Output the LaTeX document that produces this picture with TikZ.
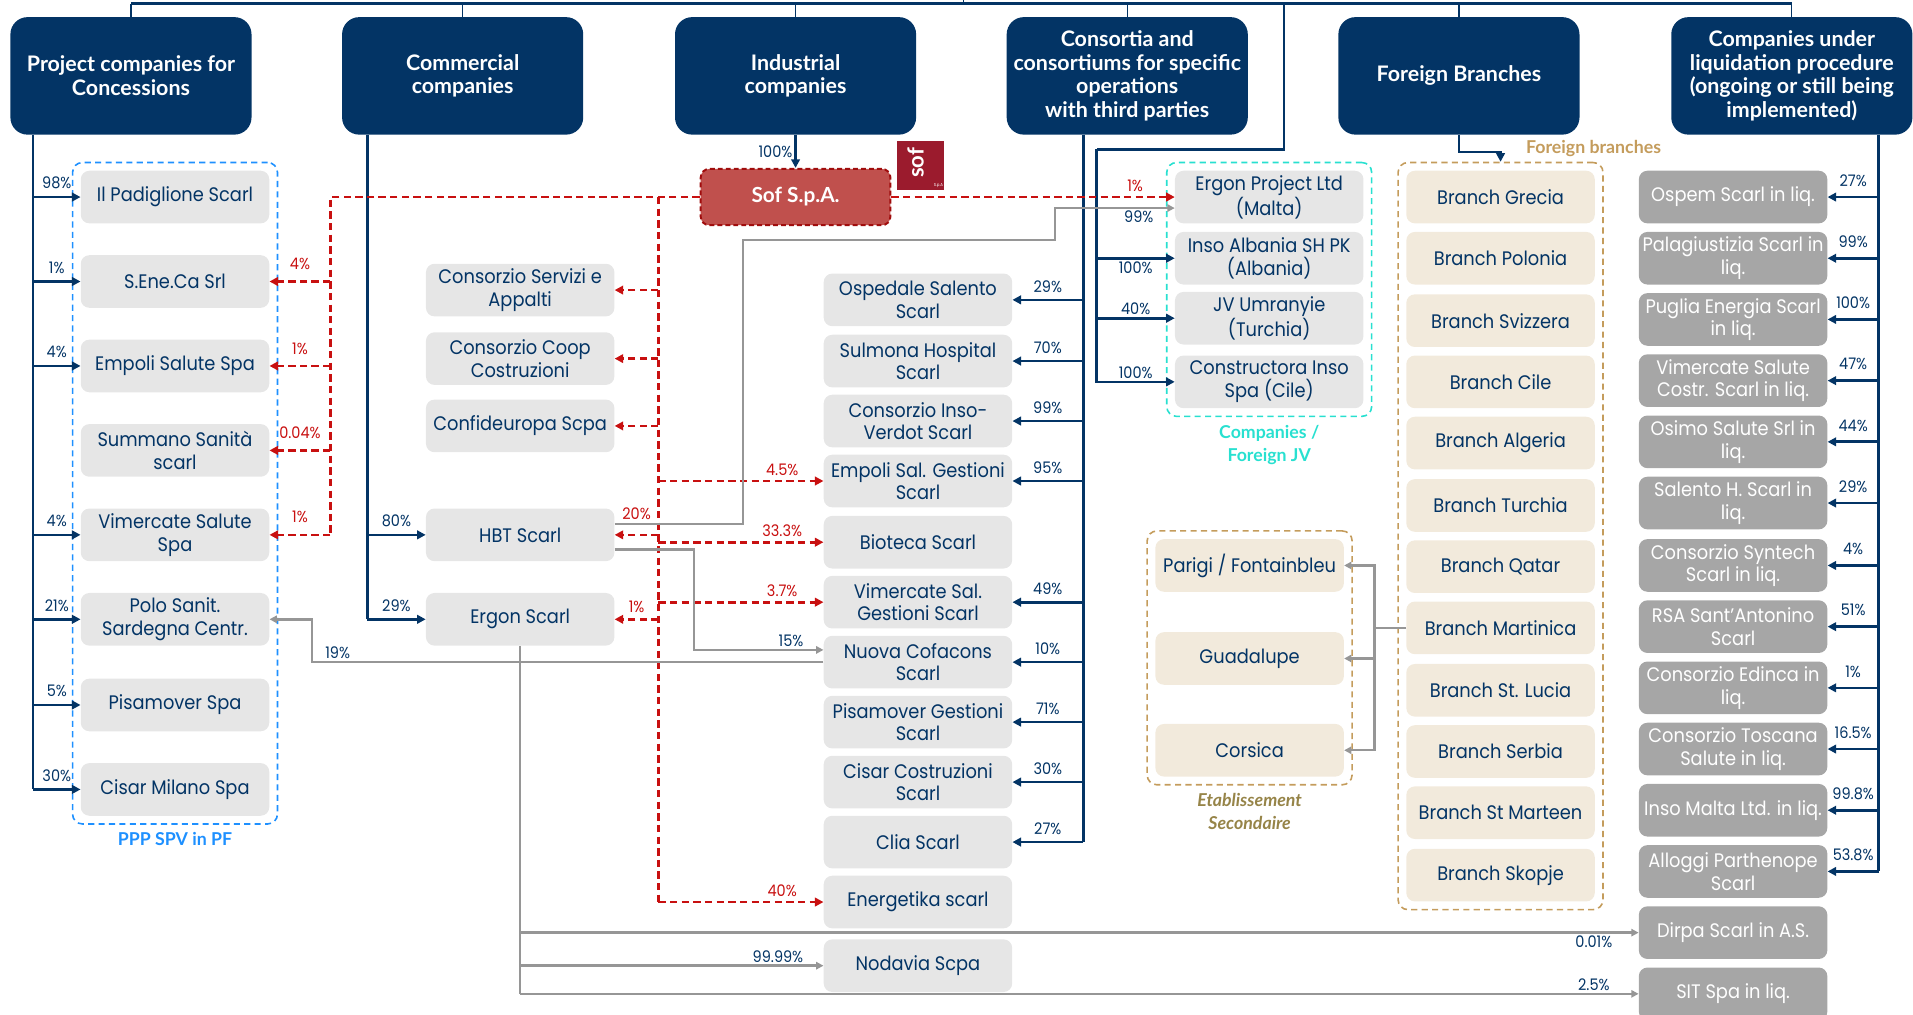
\documentclass[tikz,border=0pt]{standalone}
\usepackage{fontspec}
\setmainfont{Poppins}[FakeStretch=0.91]
\newfontfamily\headfont{Lato}
\usepackage{xcolor}
\usepackage{tikz}
\usetikzlibrary{arrows.meta,positioning,fit}

\definecolor{navy}{RGB}{3,52,101}
\definecolor{boxgrey}{RGB}{230,230,230}
\definecolor{liqgrey}{RGB}{166,166,166}
\definecolor{redline}{RGB}{200,16,16}
\definecolor{sofred}{RGB}{192,80,77}
\definecolor{logored}{RGB}{155,27,45}
\definecolor{beige}{RGB}{242,234,220}
\definecolor{tan}{RGB}{196,156,92}
\definecolor{olive}{RGB}{150,132,72}
\definecolor{cyanjv}{RGB}{40,224,208}
\definecolor{pppblue}{RGB}{30,144,255}
\definecolor{lineg}{RGB}{150,150,150}

\begin{document}
\begin{tikzpicture}[x=1pt, y=-1pt, >={Triangle[length=7pt,width=7pt]},
    head/.style={rounded corners=14pt, fill=navy, text=white, minimum width=197pt,
        minimum height=96pt, align=center, inner sep=2pt,
        font=\headfont\bfseries\fontsize{17.5}{19.5}\selectfont},
    comp/.style={rounded corners=7pt, fill=boxgrey, text=navy, minimum width=154pt,
        minimum height=43pt, align=center, inner sep=1pt,
        font=\fontsize{16}{18.5}\selectfont},
    liq/.style={comp, fill=liqgrey, text=white},
    branch/.style={comp, fill=beige},
    grp/.style={draw=#1, line width=1.3pt, dash pattern=on 5pt off 3.5pt,
        rounded corners=8pt, inner sep=6.5pt},
    pct/.style={font=\fontsize{13}{13}\selectfont, text=navy, inner sep=1.5pt},
    rpct/.style={pct, text=redline},
    own/.style={draw=navy, line width=2.2pt},
    sofline/.style={draw=redline, line width=2.2pt, dash pattern=on 6pt off 3.5pt},
    grline/.style={draw=lineg, line width=2pt, >={Triangle[length=6pt,width=6pt]}}]

    \useasboundingbox (0,0) rectangle (1563,829);

    % group headers
    \node[head] (h1) at (107,62) {Project companies for\\Concessions};
    \node[head] (h2) at (378,62) {Commercial\\companies};
    \node[head] (h3) at (650,62) {Industrial\\companies};
    \node[head] (h4) at (921,62) {Consortia and\\consortiums for specific\\operations\\with third parties};
    \node[head] (h5) at (1192,62) {Foreign Branches};
    \node[head] (h6) at (1464,62) {Companies under\\liquidation procedure\\(ongoing or still being\\implemented)};

    \coordinate (top) at (787,3);
    \coordinate (jvtop) at (1049,3);
    \draw[navy, line width=2pt] (h1.north |- top) -- (h6.north |- top);
    \draw[navy, line width=1.2pt] (top) -- (787,0);
    \draw[navy, line width=1pt] (h1.north) -- (h1.north |- top);
    \draw[navy, line width=1pt] (h2.north) -- (h2.north |- top);
    \draw[navy, line width=1pt] (h3.north) -- (h3.north |- top);
    \draw[navy, line width=1pt] (h4.north) -- (h4.north |- top);
    \draw[navy, line width=1pt] (h5.north) -- (h5.north |- top);
    \draw[navy, line width=1pt] (h6.north) -- (h6.north |- top);

    % concessions
    \node[comp] (pad) at (143,161) {Il Padiglione Scarl};
    \node[comp] (sen) at (143,230) {S.Ene.Ca Srl};
    \node[comp] (emp) at (143,299) {Empoli Salute Spa};
    \node[comp] (sum) at (143,368) {Summano Sanità\\scarl};
    \node[comp] (vim) at (143,437) {Vimercate Salute\\Spa};
    \node[comp] (polo) at (143,506) {Polo Sanit.\\Sardegna Centr.};
    \node[comp] (pis) at (143,576) {Pisamover Spa};
    \node[comp] (cmil) at (143,645) {Cisar Milano Spa};
    \node[grp=pppblue, fit=(pad)(cmil)] (ppp) {};
    \node[below=3pt of ppp, text=pppblue, font=\headfont\bfseries\fontsize{14.5}{16}\selectfont] (ppplabel) {PPP SPV in PF};

    % commercial
    \node[comp] (csa) at (425,237) {Consorzio Servizi e\\Appalti};
    \node[comp] (ccc) at (425,293) {Consorzio Coop\\Costruzioni};
    \node[comp] (cfe) at (425,348) {Confideuropa Scpa};
    \node[comp] (hbt) at (425,437) {HBT Scarl};
    \node[comp] (erg) at (425,506) {Ergon Scarl};

    % industrial
    \node[rounded corners=7pt, fill=sofred, draw=redline!80!black, line width=1.6pt,
        dash pattern=on 4pt off 2.5pt, text=white, minimum width=155pt, minimum height=46pt,
        font=\headfont\bfseries\fontsize{17}{18}\selectfont] (sof) at (650,161) {Sof S.p.A.};
    \node[fill=logored, minimum width=39pt, minimum height=40pt, inner sep=0pt] (logo) at (752,135) {};
    \node[rotate=90, text=white, inner sep=0pt, font=\headfont\bfseries\fontsize{18}{18}\selectfont] (logotxt) at ([xshift=-4pt,yshift=2pt]logo.center) {sof};
    \node[text=white, font=\fontsize{3.5}{4}\selectfont, inner sep=0pt, anchor=south east] (logospa) at ([xshift=-1pt,yshift=1.5pt]logo.south east) {S.p.A};

    % consortia
    \node[comp] (osp) at (750,245) {Ospedale Salento\\Scarl};
    \node[comp] (sul) at (750,295) {Sulmona Hospital\\Scarl};
    \node[comp] (cin) at (750,344) {Consorzio Inso-\\Verdot Scarl};
    \node[comp] (eps) at (750,393) {Empoli Sal. Gestioni\\Scarl};
    \node[comp] (bio) at (750,443) {Bioteca Scarl};
    \node[comp] (vsg) at (750,492) {Vimercate Sal.\\Gestioni Scarl};
    \node[comp] (nuo) at (750,541) {Nuova Cofacons\\Scarl};
    \node[comp] (psg) at (750,590) {Pisamover Gestioni\\Scarl};
    \node[comp] (cco) at (750,639) {Cisar Costruzioni\\Scarl};
    \node[comp] (cli) at (750,688) {Clia Scarl};
    \node[comp] (ene) at (750,737) {Energetika scarl};
    \node[comp] (nod) at (750,789) {Nodavia Scpa};

    % foreign jv
    \node[comp] (epl) at (1037,161) {Ergon Project Ltd\\(Malta)};
    \node[comp] (alb) at (1037,211) {Inso Albania SH PK\\(Albania)};
    \node[comp] (jvu) at (1037,260) {JV Umranyie\\(Turchia)};
    \node[comp] (cil) at (1037,312) {Constructora Inso\\Spa (Cile)};
    \node[grp=cyanjv, fit=(epl)(cil)] (jv) {};
    \node[below=3pt of jv, align=center, text=cyanjv, font=\headfont\bfseries\fontsize{14.5}{18.5}\selectfont] (jvlabel) {Companies /\\Foreign JV};

    % foreign branches
    \node[branch] (bgre) at (1226,161) {Branch Grecia};
    \node[branch] (bpol) at (1226,211) {Branch Polonia};
    \node[branch] (bsvi) at (1226,262) {Branch Svizzera};
    \node[branch] (bcil) at (1226,312) {Branch Cile};
    \node[branch] (balg) at (1226,362) {Branch Algeria};
    \node[branch] (btur) at (1226,413) {Branch Turchia};
    \node[branch] (bqat) at (1226,463) {Branch Qatar};
    \node[branch] (bmar) at (1226,513) {Branch Martinica};
    \node[branch] (bstl) at (1226,564) {Branch St. Lucia};
    \node[branch] (bser) at (1226,614) {Branch Serbia};
    \node[branch] (bstm) at (1226,664) {Branch St Marteen};
    \node[branch] (bsko) at (1226,715) {Branch Skopje};
    \node[grp=tan, fit=(bgre)(bsko)] (fb) {};
    \node[text=tan, font=\headfont\bfseries\fontsize{14.5}{16}\selectfont] (fblabel) at (1302,121) {Foreign branches};

    \node[branch] (par) at (1021,462) {Parigi / Fontainbleu};
    \node[branch] (gua) at (1021,538) {Guadalupe};
    \node[branch] (cor) at (1021,613) {Corsica};
    \node[grp=tan, fit=(par)(cor)] (etab) {};
    \node[below=3pt of etab, align=center, text=olive, font=\headfont\bfseries\itshape\fontsize{14.5}{18.5}\selectfont] (etablabel) {Etablissement\\Secondaire};

    % liquidation
    \node[liq] (osm) at (1416,161) {Ospem Scarl in liq.};
    \node[liq] (pal) at (1416,211) {Palagiustizia Scarl in\\liq.};
    \node[liq] (pug) at (1416,261) {Puglia Energia Scarl\\in liq.};
    \node[liq] (vsc) at (1416,311) {Vimercate Salute\\Costr. Scarl in liq.};
    \node[liq] (osi) at (1416,361) {Osimo Salute Srl in\\liq.};
    \node[liq] (sal) at (1416,411) {Salento H. Scarl in\\liq.};
    \node[liq] (syn) at (1416,462) {Consorzio Syntech\\Scarl in liq.};
    \node[liq] (rsa) at (1416,512) {RSA Sant'Antonino\\Scarl};
    \node[liq] (edi) at (1416,562) {Consorzio Edinca in\\liq.};
    \node[liq] (tos) at (1416,612) {Consorzio Toscana\\Salute in liq.};
    \node[liq] (ima) at (1416,662) {Inso Malta Ltd. in liq.};
    \node[liq] (all) at (1416,712) {Alloggi Parthenope\\Scarl};
    \node[liq] (dir) at (1416,762) {Dirpa Scarl in A.S.};
    \node[liq] (sit) at (1416,812) {SIT Spa in liq.};

    % ownership lines: concessions
    \coordinate (b1) at (27,110);
    \draw[own] (b1) -- (b1 |- cmil.west);
    \foreach \n/\p in {pad/98, sen/1, emp/4, vim/4, polo/21, pis/5, cmil/30}
        \draw[own,->] (b1 |- \n.west) -- (\n.west) node[pct, above=4pt, midway] {\p\%};

    % commercial
    \coordinate (b2) at (300,110);
    \draw[own] (b2) -- (b2 |- erg.west);
    \draw[own,->] (b2 |- hbt.west) -- (hbt.west) node[pct, above=4pt, midway] {80\%};
    \draw[own,->] (b2 |- erg.west) -- (erg.west) node[pct, above=4pt, midway] {29\%};

    % industrial
    \draw[own,->] (h3.south) -- (sof.north) node[pct, left, midway] {100\%};

    % consortia
    \coordinate (b4) at (885,110);
    \draw[own] (b4) -- (b4 |- cli.east);
    \foreach \n/\p in {osp/29, sul/70, cin/99, eps/95, vsg/49, nuo/10, psg/71, cco/30, cli/27}
        \draw[own,->] (b4 |- \n.east) -- (\n.east) node[pct, above=3.5pt, midway] {\p\%};

    \coordinate (jvbus) at (896,122);
    \draw[own] (jvtop) |- (jvbus);
    \draw[own,->] (jvbus) |- (cil.west) node[pct, above, pos=0.75] {100\%};
    \draw[own,->] (jvbus |- alb.west) -- (alb.west) node[pct, below, midway] {100\%};
    \draw[own,->] (jvbus |- jvu.west) -- (jvu.west) node[pct, above, midway] {40\%};

    % foreign branches
    \draw[own,->] (h5.south) -- ++(0,14) -| (fb.north);

    % liquidation
    \coordinate (b6) at (1535,110);
    \draw[own] (b6) -- (b6 |- all.east);
    \foreach \n/\p in {osm/27, pal/99, pug/100, vsc/47, osi/44, sal/29, syn/4, rsa/51, edi/1, tos/16.5, ima/99.8, all/53.8}
        \draw[own,->] (b6 |- \n.east) -- (\n.east) node[pct, above=6pt, midway] {\p\%};

    % Sof S.p.A. holdings
    \coordinate (rL) at (270,161);
    \coordinate (rM) at (538,161);
    \draw[sofline] (sof.west) -| (vim.east -| rL);
    \draw[sofline] (rM) -- (rM |- ene.west);
    \foreach \n/\p in {sen/4, emp/1, sum/0.04, vim/1}
        \draw[sofline,->] (\n.east -| rL) -- (\n.east) node[rpct, above=7pt, midway] {\p\%};
    \draw[sofline,->] (csa.east -| rM) -- (csa.east);
    \draw[sofline,->] (ccc.east -| rM) -- (ccc.east);
    \draw[sofline,->] (cfe.east -| rM) -- (cfe.east);
    \draw[sofline,->] (hbt.east -| rM) -- (hbt.east) node[rpct, above=10pt, midway] {20\%};
    \draw[sofline,->] (erg.east -| rM) -- (erg.east) node[rpct, above=3pt, midway] {1\%};
    \foreach \n/\p in {eps/4.5, bio/33.3, vsg/3.7, ene/40}
        \draw[sofline,->] (rM |- \n.west) -- (\n.west) node[rpct, above=2pt, pos=0.75] {\p\%};
    \draw[sofline,->] (sof.east) -- (epl.west) node[rpct, above=2pt, pos=0.86] {1\%};

    % other holdings
    \draw[grline,->] ([yshift=9pt]hbt.east) -| (607,196) -| (862,170) -- ([yshift=-9pt]epl.west)
        node[pct, below, pos=0.7] {99\%};
    \draw[grline,->] ([yshift=-12pt]hbt.east) -| (567,531) -- ([yshift=10pt]nuo.west)
        node[pct, above, pos=0.75] {15\%};
    \draw[grline,->] (nuo.west) -- (255,541) node[pct, above, pos=0.95] {19\%} |- (polo.east);
    \draw[grline] (erg.south) -- (erg.south |- sit.west);
    \draw[grline,->] (erg.south |- dir.west) -- (dir.west) node[pct, below, pos=0.96] {0.01\%};
    \draw[grline,->] (erg.south |- nod.west) -- (nod.west) node[pct, above, pos=0.85] {99.99\%};
    \draw[grline,->] (erg.south |- sit.west) -- (sit.west) node[pct, above, pos=0.96] {2.5\%};

    \coordinate (eb) at (1123,513);
    \draw[grline] (bmar.west) -- (eb);
    \draw[grline,->] (eb) |- (par.east);
    \draw[grline,->] (eb) |- (cor.east);
    \draw[grline,->] (eb |- gua.east) -- (gua.east);
\end{tikzpicture}
\end{document}
